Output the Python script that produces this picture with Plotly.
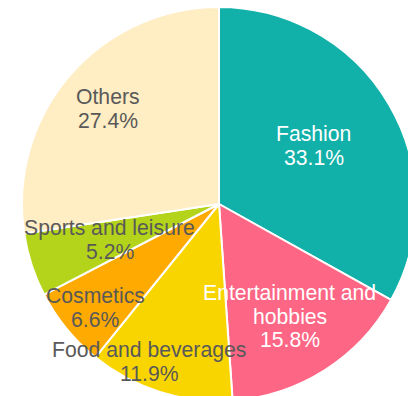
import math
import plotly.graph_objects as go

# Share of sales by category (percent)
categories = ["Fashion", "Entertainment and hobbies", "Food and beverages",
              "Cosmetics", "Sports and leisure", "Others"]
shares = [33.1, 15.8, 11.9, 6.6, 5.2, 27.4]

# Label lines shown inside the pie (name may wrap)
label_lines = [["Fashion"], ["Entertainment and", "hobbies"], ["Food and beverages"],
               ["Cosmetics"], ["Sports and leisure"], ["Others"]]

colors = ["#11B0A9", "#FD6685", "#F9D500", "#FFAA00", "#B4D41B", "#FFEDC3"]
text_colors = ["#FFFFFF", "#FFFFFF", "#595959", "#595959", "#595959", "#595959"]
# Radial position of each label block (fraction of radius) and angular nudge (deg)
label_radius = [0.565, 0.674, 0.877, 0.82, 0.583, 0.743]
label_nudge = [-1.3, 0.3, 6.4, -0.7, -0.3, 0.0]

FONT = "Liberation Sans, Arial, sans-serif"
FONT_SIZE = 21.2
LINE_PX = 23.5

fig = go.Figure(go.Pie(
    labels=categories,
    values=shares,
    sort=False,
    direction="clockwise",
    rotation=0,
    marker=dict(colors=colors, line=dict(color="#FFFFFF", width=2)),
    textinfo="none",
    hoverinfo="skip",
    showlegend=False,
    domain=dict(x=[0, 1], y=[0, 1]),
))

# Place labels along each slice's bisector
total = sum(shares)
cum = 0.0
annotations = []
for i, v in enumerate(shares):
    mid = (cum + v / 2) / total * 360 + label_nudge[i]
    cum += v
    th = math.radians(mid)
    ax = 0.5 + 0.5 * label_radius[i] * math.sin(th)
    ay = 0.5 + 0.5 * label_radius[i] * math.cos(th)
    lines = label_lines[i] + [f"{v:.1f}%"]
    n = len(lines)
    for j, line in enumerate(lines):
        annotations.append(dict(
            x=ax, y=ay, xref="paper", yref="paper",
            text=line, showarrow=False,
            xanchor="center", yanchor="middle",
            yshift=((n - 1) / 2 - j) * LINE_PX,
            font=dict(family=FONT, size=FONT_SIZE, color=text_colors[i]),
        ))

fig.update_layout(
    width=416, height=401,
    margin=dict(l=22, t=7, r=0, b=0, pad=0),
    paper_bgcolor="#FFFFFF",
    plot_bgcolor="#FFFFFF",
    annotations=annotations,
)

fig.write_html(
    "out.html",
    config={"displayModeBar": False},
    post_script="document.documentElement.style.overflow='hidden';"
                "document.body.style.overflow='hidden';"
                "document.body.style.margin='0';",
)
